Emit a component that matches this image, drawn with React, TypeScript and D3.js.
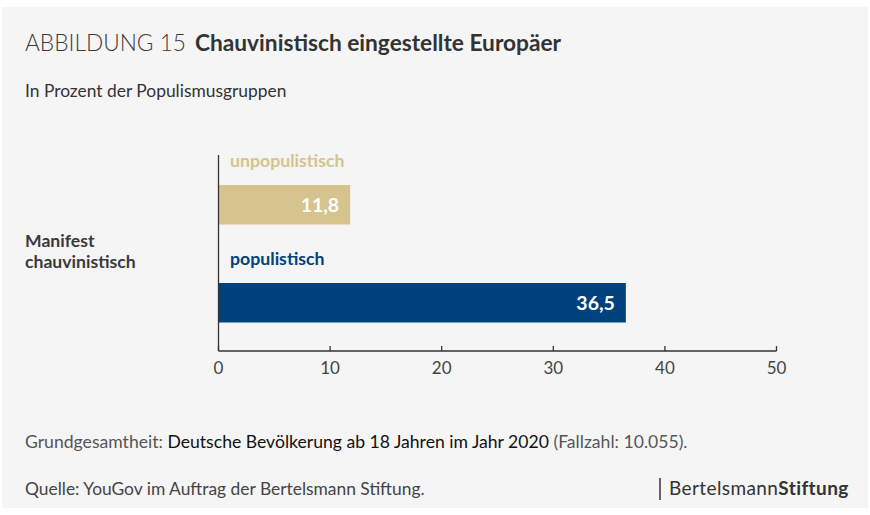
import React from "react";
import * as d3 from "d3";

const categories = ["Manifest chauvinistisch"];
const seriesNames = ["unpopulistisch", "populistisch"];
const seriesValues = [11.8, 36.5];
const seriesColors = ["#D5C48D", "#00427E"];
const tickValues = [0, 10, 20, 30, 40, 50];

const W = 870;
const H = 515;
const FONT = "Lato, 'Noto Sans', sans-serif";

export default function App() {
  const x = d3.scaleLinear().domain([0, 50]).range([218.5, 776.5]);
  const band = d3.scaleBand<string>().domain(seriesNames).range([155, 351]).paddingInner(0).paddingOuter(0);
  const fmt = (v: number) => d3.format(".1f")(v).replace(".", ",");
  const axisY = 351;
  const catLines = categories[0].split(" ");
  return (
    <svg width={W} height={H} style={{ position: "fixed", left: 0, top: 0, display: "block" }} fontFamily={FONT}>
      <rect x={0} y={0} width={W} height={H} fill="#ffffff" />
      <rect x={2} y={7} width={866} height={501} fill="#F5F5F5" />
      <text x={25} y={51} fontSize={22.7} fontWeight={300} fill="#3a3a3a">ABBILDUNG 15</text>
      <text x={195} y={51} fontSize={22.7} fontWeight={700} fill="#333">Chauvinistisch eingestellte Europäer</text>
      <text x={25} y={97} fontSize={17.4} fill="#333">In Prozent der Populismusgruppen</text>

      <text fontSize={17.6} fontWeight={700} fill="#3a3a3a">
        <tspan x={25} y={247}>{catLines[0]}</tspan>
        <tspan x={25} y={268}>{catLines[1]}</tspan>
      </text>

      {seriesNames.map((s, i) => {
        const y0 = band(s) as number;
        const bh = 39.5;
        const barY = y0 + 30;
        return (
          <g key={s}>
            <text x={230} y={y0 + 12} fontSize={17.7} fontWeight={700} fill={seriesColors[i]}>{s}</text>
            <rect x={x(0)} y={barY} width={x(seriesValues[i]) - x(0)} height={bh} fill={seriesColors[i]} />
            <text x={x(seriesValues[i]) - 11} y={barY + 27} fontSize={19.5} fontWeight={700} fill="#fff" textAnchor="end">
              {fmt(seriesValues[i])}
            </text>
          </g>
        );
      })}

      <line x1={x(0)} x2={x(0)} y1={155} y2={axisY} stroke="#333" strokeWidth={1.3} />
      <line x1={x(0)} x2={x(50)} y1={axisY} y2={axisY} stroke="#333" strokeWidth={1.3} />
      {tickValues.map((t) => (
        <g key={t}>
          <line x1={x(t)} x2={x(t)} y1={axisY} y2={axisY - 5} stroke="#333" strokeWidth={1.3} />
          <text x={x(t)} y={374} fontSize={17} fill="#444" textAnchor="middle">{t}</text>
        </g>
      ))}

      <text x={25} y={448} fontSize={17.6} fill="#555">
        Grundgesamtheit: <tspan fill="#111">Deutsche Bevölkerung ab 18 Jahren im Jahr 2020</tspan> (Fallzahl: 10.055).
      </text>
      <text x={25} y={495} fontSize={17.4} fill="#444">Quelle: YouGov im Auftrag der Bertelsmann Stiftung.</text>
      <line x1={660} x2={660} y1={478} y2={500} stroke="#333" strokeWidth={1.5} />
      <text x={669} y={495} fontSize={19} fill="#333" letterSpacing={0.4}>
        Bertelsmann<tspan fontWeight={700}>Stiftung</tspan>
      </text>
    </svg>
  );
}
